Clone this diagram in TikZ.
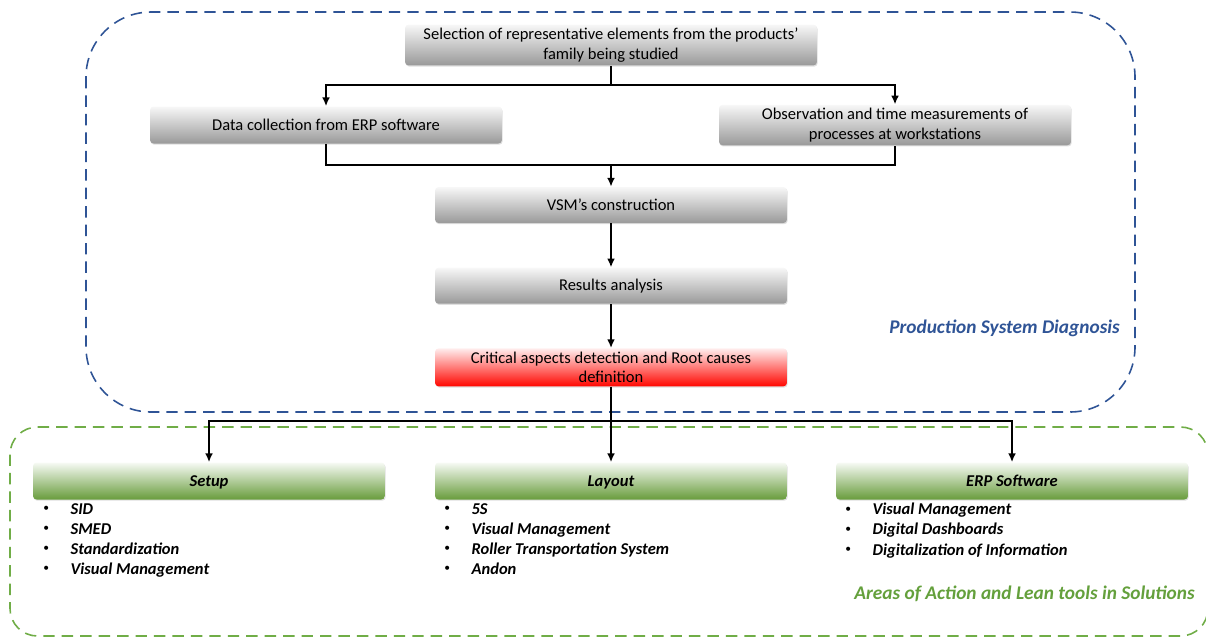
\documentclass[tikz,border=0pt]{standalone}
\usepackage{fontspec}
\setmainfont{Carlito}
\usetikzlibrary{positioning,arrows.meta,shadows}

\definecolor{diagblue}{RGB}{47,84,150}
\definecolor{areagreen}{RGB}{112,173,71}
\definecolor{areadark}{RGB}{104,156,60}
\definecolor{labelgreen}{RGB}{100,160,60}

\newcommand{\leanitem}[1]{\makebox[15.5pt][l]{\normalfont\raisebox{0.3ex}{\scalebox{0.7}{\textbullet}}}#1}

\begin{document}
\begin{tikzpicture}[
    x=0.02cm, y=-0.02cm,
    stepbox/.style={
        rounded corners=2pt,
        align=center,
        minimum width=7.04cm,
        minimum height=0.74cm,
        inner sep=2pt,
        font=\fontsize{9.4}{11}\selectfont,
        top color=black!3,
        bottom color=black!40,
        drop shadow={opacity=0.25, shadow xshift=0.4pt, shadow yshift=-0.7pt}
    },
    critbox/.style={stepbox, top color=red!7, bottom color=red!95!orange},
    areabox/.style={stepbox, top color=areagreen!6, bottom color=areadark,
        text height=1.6ex, text depth=0.4ex,
        font=\fontsize{9.4}{11}\selectfont\bfseries\itshape},
    toollist/.style={anchor=north west, align=left, inner sep=0pt,
        font=\fontsize{9.4}{11.4}\selectfont\bfseries\itshape},
    frame/.style={dash pattern=on 6.5pt off 4pt, line width=0.9pt},
    arrow/.style={-{Latex[length=5pt,width=4.5pt]}, line width=1.2pt},
    link/.style={line width=1.2pt}
]
\clip (0,0) rectangle (1206,637);

% dashed areas
\draw[frame, diagblue, rounded corners=1.3cm] (86,12) rectangle (1135,412);
\draw[frame, areagreen, rounded corners=0.55cm] (10,427) rectangle (1208,636);
\node[anchor=east, text=diagblue, font=\fontsize{11}{13}\selectfont\bfseries\itshape] (diaglabel) at (1126,328) {Production System Diagnosis};
\node[anchor=east, text=labelgreen, font=\fontsize{11}{13}\selectfont\bfseries\itshape] (arealabel) at (1201,594) {Areas of Action and Lean tools in Solutions};

% diagnosis steps
\node[stepbox, minimum width=8.24cm, minimum height=0.8cm] (sel) at (611,45) {Selection of representative elements from the products'\\family being studied};
\node[stepbox] (data) at (326,125) {Data collection from ERP software};
\node[stepbox] (obs) at (895,125) {Observation and time measurements of\\processes at workstations};
\node[stepbox, minimum height=0.72cm] (vsm) at (611,205) {VSM's construction};
\node[stepbox, minimum height=0.72cm, below=0.88cm of vsm] (res) {Results analysis};
\node[critbox, below=0.88cm of res] (crit) {Critical aspects detection and Root causes\\definition};

% areas of action
\node[areabox] (setup) at (209,481) {Setup};
\node[areabox] (layout) at (611,481) {Layout};
\node[areabox] (erp) at (1012,481) {ERP Software};
\node[toollist] (setuplist) at (43,503) {\leanitem{SID}\\\leanitem{SMED}\\\leanitem{Standardization}\\\leanitem{Visual Management}};
\node[toollist] (layoutlist) at (444,503) {\leanitem{5S}\\\leanitem{Visual Management}\\\leanitem{Roller Transportation System}\\\leanitem{Andon}};
\node[toollist] (erplist) at (845,503) {\leanitem{Visual Management}\\\leanitem{Digital Dashboards}\\\leanitem{Digitalization of Information}};

% connectors
\coordinate (split) at (611,85);
\coordinate (merge) at (611,165);
\coordinate (fork) at (611,421);
\draw[link] (sel) -- (split);
\draw[arrow] (split) -| (data);
\draw[arrow] (split) -| (obs);
\draw[link] (data) |- (merge) -| (obs);
\draw[arrow] (merge) -- (vsm);
\draw[arrow] (vsm) -- (res);
\draw[arrow] (res) -- (crit);
\draw[link] (crit) -- (fork);
\draw[arrow] (fork) -| (setup);
\draw[arrow] (fork) -- (layout);
\draw[arrow] (fork) -| (erp);
\end{tikzpicture}
\end{document}
